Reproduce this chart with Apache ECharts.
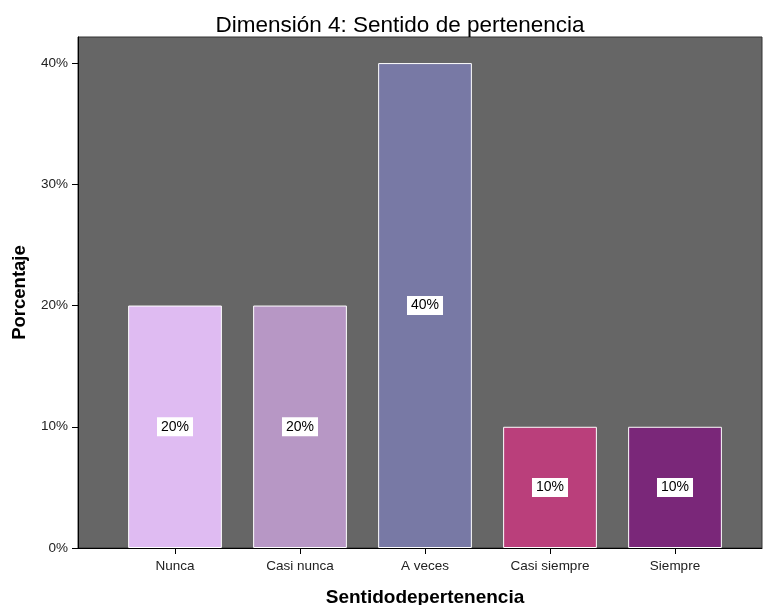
<!DOCTYPE html>
<html>
<head>
<meta charset="utf-8">
<script src="https://cdn.jsdelivr.net/npm/echarts@6/dist/echarts.min.js"></script>
<style>
  html, body { margin: 0; padding: 0; background: #fff; }
  #chart { width: 763px; height: 605px; }
</style>
</head>
<body>
<div id="chart"></div>
<script>
// datos
const categorias = ['Nunca', 'Casi nunca', 'A veces', 'Casi siempre', 'Siempre'];
const porcentajes = [20, 20, 40, 10, 10];
const colores = ['#DFBBF2', '#B797C5', '#7879A5', '#BA3F7B', '#7A2779'];
const yMax = 42.15;   // tope del área del gráfico
const yTickMax = 40;  // última marca del eje

const font = 'Liberation Sans, Arial, sans-serif';
const plotTop = 37, plotBottom = 57, plotH = 605 - plotTop - plotBottom;

let myChart = echarts.init(document.getElementById('chart'));

let option = {
  animation: false,
  textStyle: { fontFamily: font },
  title: {
    text: 'Dimensión 4: Sentido de pertenencia',
    left: 395,
    textAlign: 'center',
    top: 9,
    textStyle: { fontSize: 22.5, fontWeight: 'normal', color: '#000', fontFamily: font }
  },
  grid: [
    // fondo
    { left: 78, right: 1, top: plotTop, bottom: plotBottom, outerBoundsMode: 'none', show: true, backgroundColor: '#666666', borderColor: '#333', borderWidth: 1 },
    // barras
    { left: 112.5, width: 625, top: plotTop, bottom: plotBottom, outerBoundsMode: 'none' },
    // marcas del eje Y (0% - 40%)
    { left: 78, right: 1, top: plotTop + plotH * (yMax - yTickMax) / yMax, bottom: plotBottom, outerBoundsMode: 'none' }
  ],
  xAxis: [
    {
      gridIndex: 0,
      type: 'value',
      min: 0,
      max: 1,
      axisLine: { show: true, lineStyle: { color: '#000', width: 1 } },
      axisTick: { show: false },
      axisLabel: { show: false },
      splitLine: { show: false }
    },
    {
      gridIndex: 1,
      type: 'category',
      data: categorias,
      name: 'Sentidodepertenencia',
      nameLocation: 'middle',
      nameGap: 40,
      nameTextStyle: { fontSize: 19, fontWeight: 'bold', color: '#000', fontFamily: font },
      axisLine: { show: true, lineStyle: { color: '#000', width: 1 } },
      axisTick: { show: true, alignWithLabel: true, length: 6, lineStyle: { color: '#000' } },
      axisLabel: { fontSize: 13.5, color: '#222', margin: 11 }
    },
    {
      gridIndex: 2,
      type: 'value',
      show: false
    }
  ],
  yAxis: [
    {
      gridIndex: 0,
      type: 'value',
      min: 0,
      max: yMax,
      name: 'Porcentaje',
      nameLocation: 'middle',
      nameGap: 49,
      nameTextStyle: { fontSize: 18.5, fontWeight: 'bold', color: '#000', fontFamily: font },
      axisLine: { show: true, lineStyle: { color: '#000', width: 1 } },
      axisTick: { show: false },
      axisLabel: { show: false },
      splitLine: { show: false }
    },
    {
      gridIndex: 1,
      type: 'value',
      min: 0,
      max: yMax,
      show: false
    },
    {
      gridIndex: 2,
      type: 'value',
      min: 0,
      max: yTickMax,
      interval: 10,
      axisLine: { show: false },
      axisTick: { show: true, length: 6, lineStyle: { color: '#000' } },
      axisLabel: { fontSize: 13.5, color: '#222', margin: 10, formatter: '{value}%' },
      splitLine: { show: false }
    }
  ],
  series: [
    {
      type: 'bar',
      xAxisIndex: 1,
      yAxisIndex: 1,
      barWidth: '75%',
      data: porcentajes.map((v, i) => ({
        value: v,
        itemStyle: { color: colores[i], borderColor: '#ffffff', borderWidth: 1 }
      })),
      label: {
        show: true,
        position: 'inside',
        formatter: '{c}%',
        color: '#000',
        fontSize: 14,
        backgroundColor: '#fff',
        padding: [3, 4, 2, 4]
      }
    }
  ]
};

myChart.setOption(option);
</script>
</body>
</html>
